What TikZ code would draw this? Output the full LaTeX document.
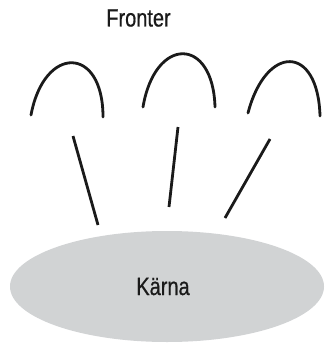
\documentclass[tikz,border=0pt]{standalone}
\usepackage{fontspec}
\setmainfont{Liberation Sans}[FakeStretch=0.8,FakeBold=0.6]
\usetikzlibrary{shapes.geometric}
\definecolor{coregray}{HTML}{D1D3D4}
\definecolor{inkblack}{HTML}{1A1A1A}
\tikzset{
  arch/.style={draw=inkblack, line width=2.8pt, line cap=round},
  link/.style={draw=inkblack, line width=2.8pt},
  label/.style={inner sep=0pt, font=\fontsize{25}{28}\selectfont, text=inkblack},
  core/.style={ellipse, fill=coregray, minimum width=314pt, minimum height=111pt, inner sep=0pt}
}
\begin{document}
\begin{tikzpicture}[x=1pt,y=-1pt]
\useasboundingbox (0,0) rectangle (325,345);
\node[core] (karna) at (167,286.5) {};
\node[label, anchor=base] (karnatext) at (163,295) {Kärna};
\node[label, anchor=base] (fronter) at (138.5,26.5) {Fronter};
% arches
\draw[arch] (31,115) .. controls (44,45) and (103,45) .. (103,117);
\draw[arch] (143,107) .. controls (155,36) and (213,36) .. (215,107);
\draw[arch] (248,113) .. controls (266,44) and (318,44) .. (320,116);
% connectors
\coordinate (a1) at (73,136);
\coordinate (b1) at (98,225);
\coordinate (a2) at (178,127);
\coordinate (b2) at (169,207);
\coordinate (a3) at (270,139);
\coordinate (b3) at (225,218);
\draw[link] (a1) -- (b1);
\draw[link] (a2) -- (b2);
\draw[link] (a3) -- (b3);
\end{tikzpicture}
\end{document}
